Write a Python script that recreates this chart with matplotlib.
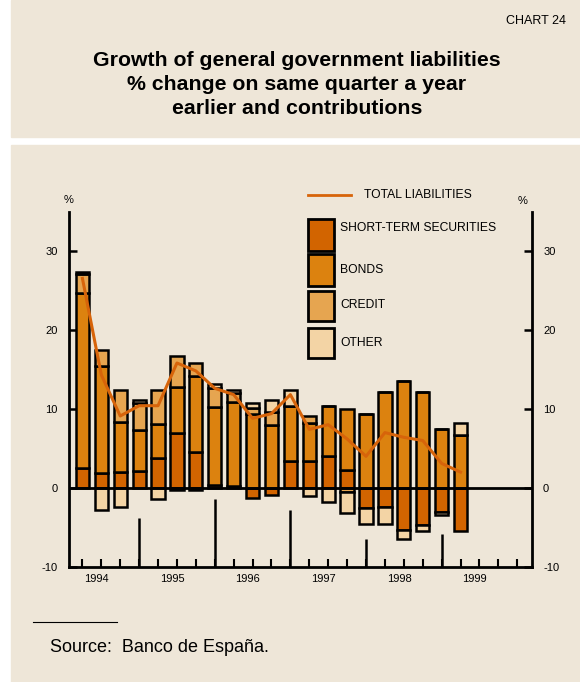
import matplotlib.pyplot as plt
from matplotlib.patches import Rectangle
from matplotlib.lines import Line2D
import numpy as np

plt.rcParams['font.family'] = ['Liberation Sans', 'DejaVu Sans']
plt.rcParams['axes.unicode_minus'] = False

# --- Data (quarters 1994 Q1 .. 1999 Q1) ---
years = ['1994', '1995', '1996', '1997', '1998', '1999']
short_term = [2.5, 1.9, 2.0, 2.2, 3.8, 6.9, 4.6, 0.4, 0.3, -1.3, -0.9,
              3.4, 3.4, 4.0, 2.3, -2.6, -2.4, -5.3, -4.7, -3.0, -5.5]
bonds = [22.1, 13.5, 6.3, 5.1, 4.3, 5.9, 9.5, 9.8, 10.6, 9.3, 7.9,
         7.0, 4.8, 6.4, 7.7, 9.3, 12.1, 13.5, 12.1, 7.4, 6.7]
credit = [2.4, 2.1, 4.1, 3.5, 4.3, 3.9, 1.7, 2.4, 1.1, 0.8, 1.7,
          0.0, 0.9, 0.0, -0.5, 0.0, 0.0, 0.0, 0.0, 0.0, 0.0]
other = [0.3, -2.8, -2.4, 0.3, -1.4, -0.3, -0.3, 0.5, 0.4, 0.7, 1.5,
         2.0, -1.0, -1.8, -2.7, -1.9, -2.1, -1.1, -0.7, -0.4, 1.5]
total = [26.5, 14.3, 9.1, 10.4, 10.4, 15.8, 14.8, 12.6, 11.8, 8.8, 9.4,
         11.8, 7.4, 8.0, 6.2, 4.0, 7.0, 6.4, 6.0, 3.1, 2.0]
# heights of the year separator lines rising from the bottom axis
sep_quarters = [3, 7, 11, 15, 19]
sep_heights = [-3.8, -1.4, -2.8, -6.5, -5.8]

series = [
    ('SHORT-TERM SECURITIES', short_term, '#D26400'),
    ('BONDS', bonds, '#DC820F'),
    ('CREDIT', credit, '#E6A550'),
    ('OTHER', other, '#F3D4A5'),
]

bg = '#EEE6D8'
fig = plt.figure(figsize=(5.8, 6.82), dpi=100)
W, H = 580, 682

# --- background panels ---
fig.patches.append(Rectangle((11 / W, 1 - 137 / H), 1 - 11 / W, 137 / H,
                             transform=fig.transFigure, color=bg, zorder=-2))
fig.patches.append(Rectangle((11 / W, 0), 1 - 11 / W, 1 - 145 / H,
                             transform=fig.transFigure, color=bg, zorder=-2))

fig.text(566 / W, 1 - 21 / H, 'CHART 24', ha='right', va='center', fontsize=9)
for i, line in enumerate(['Growth of general government liabilities',
                          '% change on same quarter a year',
                          'earlier and contributions']):
    fig.text(297 / W, 1 - (61 + 24 * i) / H, line, ha='center', va='center',
             fontsize=15.3, fontweight='bold')

# --- axes ---
ax = fig.add_axes([69 / W, 115 / H, (532 - 69) / W, (567 - 212) / H])
ax.set_facecolor('none')
x = np.arange(len(total))
pos_base = np.zeros(len(x))
neg_base = np.zeros(len(x))
for name, vals, col in series:
    v = np.array(vals)
    bottom = np.where(v >= 0, pos_base, neg_base)
    ax.bar(x, v, 0.7, bottom=bottom, color=col, edgecolor='black',
           linewidth=1.8, zorder=3)
    pos_base += np.where(v >= 0, v, 0)
    neg_base += np.where(v < 0, v, 0)

ax.plot(x, total, color='#D7640A', lw=2.2, zorder=5)
ax.axhline(0, color='black', lw=2, zorder=4)
ax.vlines(sep_quarters, -10, sep_heights, color='black', lw=1.8, zorder=4)

ax.set_xlim(-0.71, 23.78)
ax.set_ylim(-10, 34.9)
for s in ['left', 'right', 'bottom']:
    ax.spines[s].set_linewidth(2)
ax.spines['top'].set_visible(False)

ax.set_yticks([-10, 0, 10, 20, 30])
ax.tick_params(axis='y', direction='in', left=True, right=True,
               labelleft=True, labelright=True, length=6, width=1.8,
               labelsize=8, pad=8)
ax.set_xticks([4 * i + 0.75 for i in range(len(years))])
ax.set_xticklabels(years)
ax.tick_params(axis='x', which='major', length=0, labelsize=8, pad=5)
ax.set_xticks(np.arange(24), minor=True)
ax.tick_params(axis='x', which='minor', direction='in', length=6, width=1.5)

ax.text(0.0, 1.035, '%', transform=ax.transAxes, ha='center', va='center', fontsize=8)
ax.text(0.98, 1.03, '%', transform=ax.transAxes, ha='center', va='center', fontsize=8)

# --- legend drawn by hand ---
fig.add_artist(Line2D([308 / W, 351 / W], [1 - 195 / H, 1 - 195 / H],
                      color='#D7640A', lw=2))
fig.text(364 / W, 1 - 195 / H, 'TOTAL LIABILITIES', va='center', fontsize=8.7)
legend_y = [(219, 251), (254, 286), (291, 321), (328, 358)]
text_y = [228, 270, 305, 343]
for (name, vals, col), (y0, y1), ty in zip(series, legend_y, text_y):
    fig.patches.append(Rectangle((308 / W, 1 - y1 / H), 26 / W, (y1 - y0) / H,
                                 transform=fig.transFigure, facecolor=col,
                                 edgecolor='black', lw=2, zorder=3))
    fig.text(340 / W, 1 - ty / H, name, va='center', fontsize=8.7, zorder=4)

# --- source ---
fig.add_artist(Line2D([33 / W, 117 / W], [1 - 622 / H, 1 - 622 / H],
                      color='black', lw=0.8))
fig.text(50 / W, 1 - 648 / H, 'Source:  Banco de España.', va='center', fontsize=13)

fig.savefig('out.png', dpi=100)
